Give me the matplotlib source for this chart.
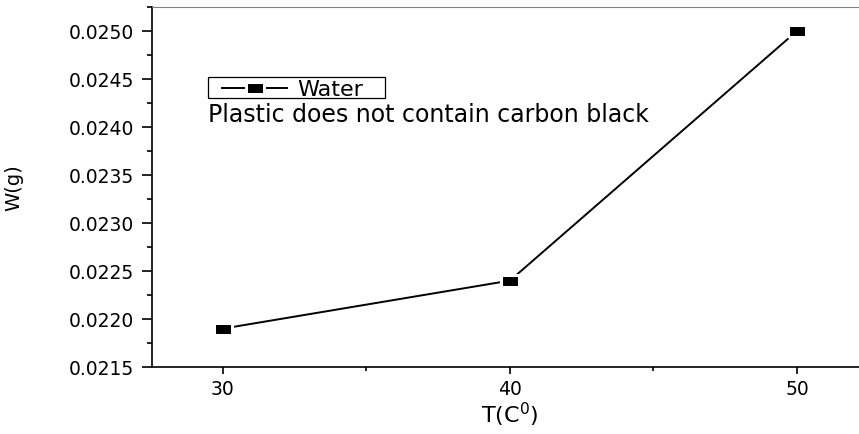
import numpy as np
import matplotlib
matplotlib.use('Agg')
import matplotlib.pyplot as plt
from matplotlib.patches import Rectangle
from matplotlib.ticker import MultipleLocator, FormatStrFormatter


# Weight of water taken up by plastic (no carbon black) at three temperatures
temperature = [30, 40, 50]
weight = [0.0219, 0.0224, 0.0250]
series_name = 'Water'
note = 'Plastic does not contain carbon black'

plt.rcParams['font.family'] = 'DejaVu Sans'
plt.rcParams['mathtext.default'] = 'regular'

fig = plt.figure(figsize=(8.59, 4.35), dpi=100)
W, H = 859, 435
ax = fig.add_axes([152 / W, (H - 368) / H, 1 - 152 / W, (368 - 8) / H])

# flat rectangular marker, white rim leaves a little gap where the line meets it
rect = [(-0.5, -0.34), (0.5, -0.34), (0.5, 0.34), (-0.5, 0.34), (-0.5, -0.34)]
ax.plot(temperature, weight, color='black', lw=1.4, marker=rect, markersize=12.5,
        markerfacecolor='black', markeredgecolor='white', markeredgewidth=2.2,
        label=series_name)

ax.set_xlim(27.53, 52.16)
ax.set_ylim(0.0215, 0.02525)

ax.xaxis.set_major_locator(MultipleLocator(10))
ax.xaxis.set_minor_locator(MultipleLocator(5))
ax.yaxis.set_major_locator(MultipleLocator(0.0005))
ax.yaxis.set_minor_locator(MultipleLocator(0.00025))
ax.yaxis.set_major_formatter(FormatStrFormatter('%.4f'))

ax.tick_params(axis='y', which='major', direction='out', length=7.2, width=1.2,
               pad=6, labelsize=13.5)
ax.tick_params(axis='y', which='minor', direction='out', length=3.6, width=1.2)
ax.tick_params(axis='x', which='major', direction='out', length=5, width=1.2,
               pad=4, labelsize=13.5)
ax.tick_params(axis='x', which='minor', direction='out', length=2.9, width=1.2)

for side in ['left', 'bottom']:
    ax.spines[side].set_linewidth(1.2)
ax.spines['top'].set_color('#808080')
ax.spines['top'].set_linewidth(0.8)
ax.spines['right'].set_visible(False)

ax.set_ylabel('W(g)', fontsize=14)
ax.yaxis.set_label_coords(-0.182, 0.5)
ax.set_xlabel('T(C$^{0}$)', fontsize=16)
ax.xaxis.set_label_coords((510 - 152) / 707, -0.09)

# legend entry without its own frame; box drawn separately with side padding
leg = ax.legend(loc='center left', bbox_to_anchor=(222 / W, 1 - 90.5 / H),
                bbox_transform=fig.transFigure, fontsize=16, frameon=False,
                borderpad=0, borderaxespad=0,
                handlelength=2.93, handletextpad=0.45)
fig.patches.append(Rectangle((208 / W, 1 - 99 / H), 177 / W, 21 / H,
                             transform=fig.transFigure, fill=False,
                             edgecolor='black', linewidth=0.9))

fig.text(208 / W, 1 - 122 / H, note, fontsize=17, ha='left', va='baseline')

fig.savefig('out.png', dpi=100)
